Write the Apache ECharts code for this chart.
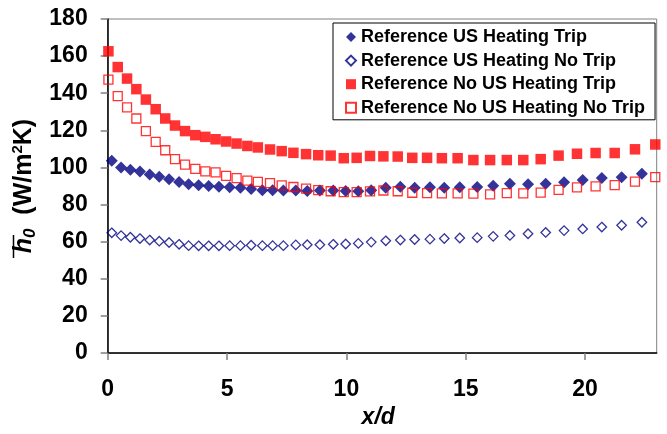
<!DOCTYPE html>
<html>
<head>
<meta charset="utf-8">
<script src="https://cdn.jsdelivr.net/npm/echarts@6/dist/echarts.min.js"></script>
<style>html,body{margin:0;padding:0;background:#fff;}#c{width:667px;height:434px;}</style>
</head>
<body>
<div id="c"></div>
<script>
// x/d positions, US heating series
const xUS = [0.17, 0.56, 0.95, 1.35, 1.76, 2.16, 2.57, 2.99, 3.39, 3.81, 4.23, 4.66, 5.11, 5.56, 6.01,
  6.48, 6.91, 7.36, 7.88, 8.36, 8.89, 9.45, 9.97, 10.50, 11.04, 11.65, 12.26, 12.86, 13.50, 14.10,
  14.75, 15.48, 16.15, 16.85, 17.61, 18.35, 19.12, 19.90, 20.70, 21.53, 22.38];
const yUSTrip = [103.6, 100.0, 98.8, 97.8, 96.2, 95.0, 93.6, 92.2, 91.0, 90.4, 90.0, 89.6, 89.3, 89.1, 88.4,
  87.8, 87.8, 87.6, 87.6, 87.4, 87.6, 87.6, 87.4, 87.2, 87.8, 89.1, 89.6, 89.1, 89.3, 89.1,
  89.4, 89.5, 90.2, 91.2, 91.0, 91.2, 92.1, 93.3, 94.3, 94.8, 96.6];
const yUSNoTrip = [64.8, 63.3, 62.4, 61.7, 60.9, 60.3, 59.6, 58.6, 57.9, 57.8, 57.8, 57.8, 57.9, 57.9, 58.1,
  57.9, 57.9, 57.9, 58.3, 58.4, 58.4, 58.6, 58.8, 59.1, 59.8, 60.5, 60.9, 61.2, 61.4, 61.7,
  62.0, 62.2, 62.9, 63.4, 64.3, 65.0, 66.0, 66.9, 67.9, 68.9, 70.5];
// x/d positions, no US heating series
const xNoUS = [0.03, 0.42, 0.81, 1.20, 1.60, 2.01, 2.41, 2.82, 3.24, 3.67, 4.09, 4.52, 4.96, 5.40, 5.85, 6.29,
  6.80, 7.29, 7.78, 8.31, 8.82, 9.34, 9.89, 10.43, 10.99, 11.55, 12.15, 12.76, 13.38, 14.00,
  14.66, 15.32, 16.02, 16.72, 17.41, 18.14, 18.89, 19.66, 20.44, 21.24, 22.09, 22.94];
const yNoUSTrip = [162.6, 154.1, 147.9, 142.2, 136.6, 131.4, 126.4, 122.6, 119.6, 117.4, 116.5, 115.2, 114.0, 112.9, 111.6, 110.8,
  109.7, 108.8, 107.9, 107.2, 106.6, 106.4, 105.0, 105.2, 106.2, 106.0, 105.9, 105.2, 105.2, 105.0,
  105.0, 104.0, 104.0, 104.0, 104.0, 104.5, 106.4, 107.4, 107.8, 107.8, 109.8, 112.4];
const yNoUSNoTrip = [147.3, 138.5, 132.4, 126.4, 119.6, 113.8, 109.3, 104.5, 101.5, 99.2, 97.9, 97.4, 95.5, 94.3, 92.9, 92.2,
  91.6, 90.4, 89.5, 88.6, 87.8, 87.2, 86.7, 86.7, 87.1, 87.6, 87.2, 86.4, 86.2, 86.0,
  86.0, 85.9, 85.5, 86.2, 86.0, 86.5, 87.9, 89.3, 89.8, 90.5, 92.4, 94.8];
const seriesNames = ['Reference US Heating Trip', 'Reference US Heating No Trip',
  'Reference No US Heating Trip', 'Reference No US Heating No Trip'];
const xTicks = [0, 5, 10, 15, 20];
const xMax = 23;
const yMin = 0, yMax = 180, yStep = 20;

const FONT = 'Liberation Sans, Arial, sans-serif';
const pair = (xs, ys) => xs.map((x, i) => [x, ys[i]]);

const chart = echarts.init(document.getElementById('c'), null, {renderer: 'canvas'});
chart.setOption({
  animation: false,
  backgroundColor: '#fff',
  grid: {left: 107.7, right: 10.3, top: 19, bottom: 67, show: true, borderColor: '#808080', borderWidth: 1},
  legend: {
    orient: 'vertical', left: 333, top: 23,
    padding: [5, 10, 3, 12], itemGap: 5.6, itemWidth: 10, itemHeight: 10,
    borderColor: '#000', borderWidth: 1, backgroundColor: '#fff',
    textStyle: {fontFamily: FONT, fontWeight: 'bold', fontSize: 18, color: '#000'},
    data: seriesNames
  },
  xAxis: {
    type: 'value', min: 0, max: xMax, interval: 5,
    name: 'x/d', nameLocation: 'middle', nameGap: 47,
    nameTextStyle: {fontFamily: FONT, fontWeight: 'bold', fontStyle: 'italic', fontSize: 23, color: '#000', padding: [0, 8, 0, 0]},
    axisLine: {show: true, onZero: false, lineStyle: {color: '#000', width: 1.5}},
    axisTick: {show: true, inside: false, length: 7, customValues: xTicks, lineStyle: {color: '#808080', width: 1.5}},
    axisLabel: {margin: 25, customValues: xTicks, fontFamily: FONT, fontWeight: 'bold', fontSize: 23, color: '#000'},
    splitLine: {show: false}
  },
  yAxis: {
    type: 'value', min: yMin, max: yMax, interval: yStep,
    name: '{h|h}{sub|0}{t|  (W/m}{sup|2}{t|K)}', nameLocation: 'middle', nameRotate: 90, nameGap: 55,
    nameTextStyle: {
      color: '#000',
      rich: {
        h: {fontFamily: FONT, fontWeight: 'bold', fontStyle: 'italic', fontSize: 25, lineHeight: 28, verticalAlign: 'middle', color: '#000'},
        sub: {fontFamily: FONT, fontWeight: 'bold', fontStyle: 'italic', fontSize: 17, verticalAlign: 'bottom', color: '#000'},
        t: {fontFamily: FONT, fontWeight: 'bold', fontSize: 25, lineHeight: 28, verticalAlign: 'middle', color: '#000'},
        sup: {fontFamily: FONT, fontWeight: 'bold', fontSize: 15, verticalAlign: 'top', color: '#000'}
      }
    },
    axisLine: {show: true, onZero: false, lineStyle: {color: '#000', width: 1.5}},
    axisTick: {show: true, inside: false, length: 7, lineStyle: {color: '#808080', width: 1.5}},
    axisLabel: {margin: 20, fontFamily: FONT, fontWeight: 'bold', fontSize: 23, color: '#000'},
    splitLine: {show: false}
  },
  graphic: [{
    type: 'line', z: 100,
    shape: {x1: 13.5, y1: 235, x2: 13.5, y2: 258},
    style: {stroke: '#000', lineWidth: 1.5}
  }],
  series: [
    {name: seriesNames[0], type: 'scatter', data: pair(xUS, yUSTrip), symbol: 'diamond', symbolSize: 12,
      itemStyle: {color: '#000080'}},
    {name: seriesNames[1], type: 'scatter', data: pair(xUS, yUSNoTrip), symbol: 'diamond', symbolSize: 9.5,
      itemStyle: {color: 'rgba(255,255,255,0)', borderColor: '#000080', borderWidth: 1.3}},
    {name: seriesNames[2], type: 'scatter', data: pair(xNoUS, yNoUSTrip), symbol: 'rect', symbolSize: 10.5,
      itemStyle: {color: '#ff0000'}},
    {name: seriesNames[3], type: 'scatter', data: pair(xNoUS, yNoUSNoTrip), symbol: 'rect', symbolSize: 9,
      itemStyle: {color: 'rgba(255,255,255,0)', borderColor: '#ff0000', borderWidth: 1.3}}
  ]
});
</script>
</body>
</html>
